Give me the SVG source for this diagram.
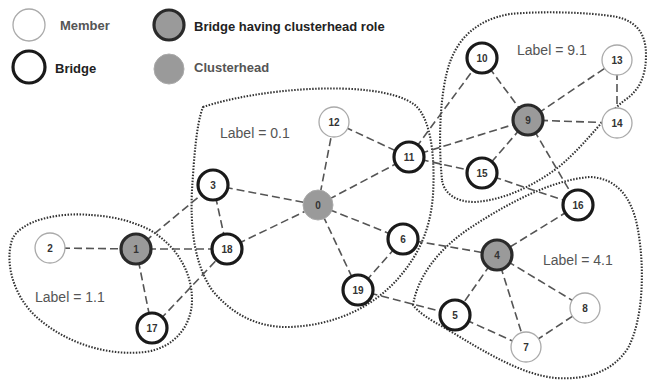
<svg xmlns="http://www.w3.org/2000/svg" width="647" height="381" viewBox="0 0 647 381">
<style>
.bg{fill:#fff}
.cl{fill:none;stroke:#333;stroke-width:2.1;stroke-dasharray:1.5 1.5}
.e{stroke:#555;stroke-width:1.6;stroke-dasharray:8 4;fill:none}
.mem{fill:#fff;stroke:#aaa;stroke-width:1.3}
.br{fill:#fff;stroke:#1a1a1a;stroke-width:3.2}
.bch{fill:#9a9a9a;stroke:#2a2a2a;stroke-width:3.2}
.ch{fill:#9a9a9a;stroke:#aaa;stroke-width:1}
.n{font-family:"Liberation Sans",Arial,sans-serif;font-size:10px;font-weight:bold;fill:#333;text-anchor:middle}
.lg{font-family:"Liberation Sans",Arial,sans-serif;font-size:13px;font-weight:bold}
.lb{font-family:"Liberation Sans",Arial,sans-serif;font-size:14px;fill:#555}
</style>
<rect class="bg" x="0" y="0" width="647" height="381"/>
<g id="legend">
<circle class="mem" cx="29" cy="25" r="16"/>
<text class="lg" x="60" y="30" fill="#555">Member</text>
<circle class="br" cx="29" cy="67" r="16"/>
<text class="lg" x="55" y="73" fill="#222">Bridge</text>
<circle class="bch" cx="169" cy="25" r="15"/>
<text class="lg" x="194" y="31" fill="#222">Bridge having clusterhead role</text>
<circle class="ch" cx="169" cy="69" r="15"/>
<text class="lg" x="194" y="72" fill="#555">Clusterhead</text>
</g>
<g id="clusters">
<path class="cl" d="M203,107 C230,98 270,91 310,89 C350,87 395,90 415,105 C432,120 435,160 433,195 C430,235 415,260 395,282 C370,308 335,325 290,327 C255,328 230,312 212,290 C195,265 190,230 192,190 C194,160 196,125 203,107 Z"/>
<path class="cl" d="M90,215 C60,212 20,220 12,240 C4,265 15,300 40,320 C70,345 110,356 145,352 C175,348 192,325 192,300 C192,270 175,245 150,230 C130,220 110,216 90,215 Z"/>
<path class="cl" d="M442,180 C438,140 440,90 450,62 C458,40 475,20 510,14 C540,11 590,12 617,17 C638,22 646,35 646,55 C646,75 640,90 625,100 C605,115 590,140 560,166 C535,185 505,200 475,202 C455,202 444,193 442,180 Z"/>
<path class="cl" d="M413,305 C418,275 440,248 470,228 C505,205 550,180 590,177 C615,178 632,195 638,230 C645,270 643,320 628,348 C612,373 585,380 555,378 C520,374 485,352 445,328 C430,320 418,312 413,305 Z"/>
<text class="lb" x="220" y="138">Label = 0.1</text>
<text class="lb" x="517" y="55">Label = 9.1</text>
<text class="lb" x="543" y="265">Label = 4.1</text>
<text class="lb" x="35" y="302">Label = 1.1</text>
</g>
<g id="edges">
<line class="e" x1="50" y1="248" x2="136" y2="249"/>
<line class="e" x1="136" y1="249" x2="227" y2="249"/>
<line class="e" x1="136" y1="249" x2="213" y2="185"/>
<line class="e" x1="136" y1="249" x2="152" y2="328"/>
<line class="e" x1="152" y1="328" x2="227" y2="249"/>
<line class="e" x1="213" y1="185" x2="227" y2="249"/>
<line class="e" x1="213" y1="185" x2="318" y2="205"/>
<line class="e" x1="227" y1="249" x2="318" y2="205"/>
<line class="e" x1="318" y1="205" x2="334" y2="122"/>
<line class="e" x1="318" y1="205" x2="409" y2="157"/>
<line class="e" x1="318" y1="205" x2="403" y2="239"/>
<line class="e" x1="318" y1="205" x2="358" y2="290"/>
<line class="e" x1="334" y1="122" x2="409" y2="157"/>
<line class="e" x1="403" y1="239" x2="358" y2="290"/>
<line class="e" x1="403" y1="239" x2="497" y2="255"/>
<line class="e" x1="358" y1="290" x2="455" y2="315"/>
<line class="e" x1="409" y1="157" x2="528" y2="120"/>
<line class="e" x1="409" y1="157" x2="482" y2="58"/>
<line class="e" x1="409" y1="157" x2="482" y2="173"/>
<line class="e" x1="482" y1="58" x2="528" y2="120"/>
<line class="e" x1="528" y1="120" x2="617" y2="60"/>
<line class="e" x1="528" y1="120" x2="617" y2="123"/>
<line class="e" x1="617" y1="60" x2="617" y2="123"/>
<line class="e" x1="528" y1="120" x2="482" y2="173"/>
<line class="e" x1="528" y1="120" x2="578" y2="205"/>
<line class="e" x1="482" y1="173" x2="578" y2="205"/>
<line class="e" x1="578" y1="205" x2="497" y2="255"/>
<line class="e" x1="497" y1="255" x2="455" y2="315"/>
<line class="e" x1="497" y1="255" x2="526" y2="347"/>
<line class="e" x1="497" y1="255" x2="585" y2="308"/>
<line class="e" x1="455" y1="315" x2="526" y2="347"/>
<line class="e" x1="526" y1="347" x2="585" y2="308"/>
</g>
<g id="n0"><circle class="ch" cx="318" cy="205" r="15"/><text class="n" x="318" y="209">0</text></g>
<g id="n1"><circle class="bch" cx="136" cy="249" r="15"/><text class="n" x="136" y="253">1</text></g>
<g id="n2"><circle class="mem" cx="50" cy="248" r="15"/><text class="n" x="50" y="252">2</text></g>
<g id="n3"><circle class="br" cx="213" cy="185" r="15"/><text class="n" x="213" y="189">3</text></g>
<g id="n4"><circle class="bch" cx="497" cy="255" r="15"/><text class="n" x="497" y="259">4</text></g>
<g id="n5"><circle class="br" cx="455" cy="315" r="15"/><text class="n" x="455" y="319">5</text></g>
<g id="n6"><circle class="br" cx="403" cy="239" r="15"/><text class="n" x="403" y="243">6</text></g>
<g id="n7"><circle class="mem" cx="526" cy="347" r="15"/><text class="n" x="526" y="351">7</text></g>
<g id="n8"><circle class="mem" cx="585" cy="308" r="15"/><text class="n" x="585" y="312">8</text></g>
<g id="n9"><circle class="bch" cx="528" cy="120" r="15"/><text class="n" x="528" y="124">9</text></g>
<g id="n10"><circle class="br" cx="482" cy="58" r="15"/><text class="n" x="482" y="62">10</text></g>
<g id="n11"><circle class="br" cx="409" cy="157" r="15"/><text class="n" x="409" y="161">11</text></g>
<g id="n12"><circle class="mem" cx="334" cy="122" r="15"/><text class="n" x="334" y="126">12</text></g>
<g id="n13"><circle class="mem" cx="617" cy="60" r="15"/><text class="n" x="617" y="64">13</text></g>
<g id="n14"><circle class="mem" cx="617" cy="123" r="15"/><text class="n" x="617" y="127">14</text></g>
<g id="n15"><circle class="br" cx="482" cy="173" r="15"/><text class="n" x="482" y="177">15</text></g>
<g id="n16"><circle class="br" cx="578" cy="205" r="15"/><text class="n" x="578" y="209">16</text></g>
<g id="n17"><circle class="br" cx="152" cy="328" r="15"/><text class="n" x="152" y="332">17</text></g>
<g id="n18"><circle class="br" cx="227" cy="249" r="15"/><text class="n" x="227" y="253">18</text></g>
<g id="n19"><circle class="br" cx="358" cy="290" r="15"/><text class="n" x="358" y="294">19</text></g>
</svg>
